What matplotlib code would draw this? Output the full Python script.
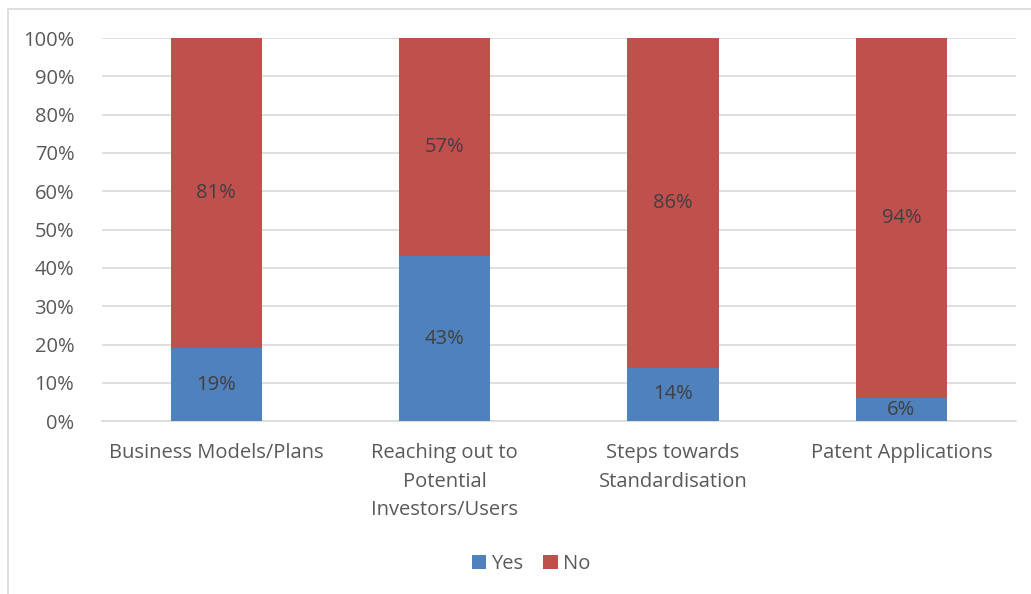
import numpy as np
import matplotlib.pyplot as plt
from matplotlib.patches import Rectangle
from matplotlib.ticker import PercentFormatter

plt.rcParams["font.family"] = ["Open Sans", "DejaVu Sans"]

categories = ["Business Models/Plans", "Reaching out to\nPotential\nInvestors/Users",
              "Steps towards\nStandardisation", "Patent Applications"]
yes = [19, 43, 14, 6]
no = [81, 57, 86, 94]

blue = "#4F81BD"
red = "#C0504D"
text_grey = "#595959"

fig = plt.figure(figsize=(10.31, 5.94), dpi=100)
ax = fig.add_axes([0.099, 0.291, 0.886, 0.645])

x = np.arange(len(categories))
ax.bar(x, yes, width=0.4, color=blue, label="Yes", zorder=3)
ax.bar(x, no, width=0.4, bottom=yes, color=red, label="No", zorder=3)

# value labels in the middle of each segment
for i in range(len(categories)):
    ax.text(x[i], yes[i] / 2, f"{yes[i]}%", ha="center", va="center",
            fontsize=14.5, color="#404040", zorder=4)
    ax.text(x[i], yes[i] + no[i] / 2, f"{no[i]}%", ha="center", va="center",
            fontsize=14.5, color="#404040", zorder=4)

ax.set_xlim(-0.5, len(categories) - 0.5)
ax.set_ylim(0, 100)
ax.set_yticks(np.arange(0, 101, 10))
ax.yaxis.set_major_formatter(PercentFormatter(decimals=0))
ax.set_xticks(x)
ax.set_xticklabels(categories, linespacing=1.55)

ax.grid(axis="y", color="#D9D9D9", linewidth=1.2, zorder=0)
for s in ["top", "right", "left"]:
    ax.spines[s].set_visible(False)
ax.spines["bottom"].set_color("#D9D9D9")
ax.spines["bottom"].set_linewidth(1.2)
ax.tick_params(axis="both", length=0, labelsize=14.5, colors=text_grey)
ax.tick_params(axis="x", pad=16)
ax.tick_params(axis="y", pad=20)

leg = fig.legend(loc="center", bbox_to_anchor=(0.515, 0.05), ncol=2, frameon=False,
                 fontsize=14.5, handlelength=0.7, handleheight=0.7,
                 handletextpad=0.25, columnspacing=1.0)
for t in leg.get_texts():
    t.set_color(text_grey)

# light outer frame around the chart
fig.patches.append(Rectangle((0.008, -0.01), 1.1, 0.995, transform=fig.transFigure,
                             fill=False, edgecolor="#D9D9D9", linewidth=1.2))

fig.savefig("out.png", dpi=100)
